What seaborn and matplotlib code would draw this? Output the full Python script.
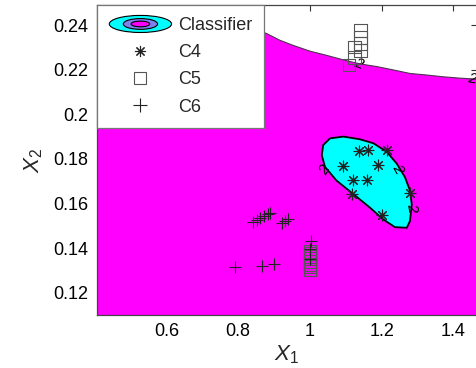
import matplotlib
matplotlib.use("Agg")
import matplotlib.pyplot as plt
import seaborn as sns
import pandas as pd
from matplotlib.patches import Ellipse, Patch
from matplotlib.legend_handler import HandlerBase

# upper decision boundary (below = classifier region)
boundary_x1 = [0.40, 0.60, 0.80, 0.842, 0.879, 0.916, 0.953, 1.0, 1.047, 1.093,
               1.139, 1.186, 1.232, 1.279, 1.326, 1.372, 1.418, 1.47]
boundary_x2 = [0.272, 0.255, 0.2415, 0.2385, 0.2362, 0.2332, 0.2309, 0.2283, 0.2264, 0.2244,
               0.2226, 0.2214, 0.2199, 0.2183, 0.2176, 0.2168, 0.2162, 0.2157]

# inner (cyan) region outline
blob_x1 = [1.037, 1.056, 1.093, 1.139, 1.177, 1.214, 1.242, 1.265, 1.279, 1.284,
           1.279, 1.270, 1.237, 1.204, 1.167, 1.121, 1.074, 1.042, 1.033]
blob_x2 = [0.1862, 0.1892, 0.1900, 0.1888, 0.1870, 0.1832, 0.1779, 0.1718, 0.1658, 0.1597,
           0.1521, 0.1491, 0.1494, 0.1529, 0.1582, 0.1642, 0.1703, 0.1764, 0.1817]

# contour level labels
label_x1 = [1.042, 1.246, 1.284, 1.135, 1.452]
label_x2 = [0.1748, 0.1756, 0.1582, 0.2226, 0.2158]
label_rot = [60, -60, -80, -20, -10]

c4_x1 = [1.138, 1.163, 1.214, 1.093, 1.189, 1.119, 1.160, 1.116, 1.279, 1.200]
c4_x2 = [0.1836, 0.1842, 0.1842, 0.1767, 0.1771, 0.1706, 0.1706, 0.1642, 0.1645, 0.1549]

c5_x1 = [1.141, 1.141, 1.141, 1.141, 1.124, 1.124, 1.109,
         1.0, 1.0, 1.0, 1.0, 1.0, 1.0, 1.0, 1.0]
c5_x2 = [0.2377, 0.2345, 0.2318, 0.2286, 0.2302, 0.2256, 0.2221,
         0.1305, 0.1316, 0.1328, 0.1340, 0.1352, 0.1364, 0.1375, 0.1386]

c6_x1 = [0.842, 0.851, 0.861, 0.873, 0.882, 0.889, 0.921, 0.930, 0.940,
         0.791, 0.865, 0.900, 1.003, 1.0, 1.0]
c6_x2 = [0.1518, 0.1527, 0.1536, 0.1544, 0.1555, 0.1559, 0.1514, 0.1521, 0.1529,
         0.1317, 0.1321, 0.1329, 0.1433, 0.1395, 0.1350]

MAGENTA = "#ff00ff"
CYAN = "#00ffff"
SLATE = "#8080f0"

sns.set_theme(style="white")
plt.rcParams["font.family"] = ["Liberation Sans", "DejaVu Sans"]
plt.rcParams["mathtext.fontset"] = "custom"
plt.rcParams["mathtext.it"] = "Liberation Sans:italic"
plt.rcParams["mathtext.rm"] = "Liberation Sans"


class EllipsesHandler(HandlerBase):
    def create_artists(self, legend, orig_handle, xdescent, ydescent,
                       width, height, fontsize, trans):
        cx = width / 2 - xdescent
        cy = height / 2 - ydescent
        arts = []
        for fw, fh, col in [(1.0, 1.35, CYAN), (0.55, 0.85, SLATE), (0.3, 0.45, MAGENTA)]:
            e = Ellipse((cx, cy), width * fw, height * fh, facecolor=col,
                        edgecolor="black", lw=0.8, transform=trans)
            arts.append(e)
        return arts


fig = plt.figure(figsize=(4.77, 3.68), dpi=100)
ax = fig.add_axes([97 / 477, 1 - 315 / 368, 380 / 477, 310 / 368])

ax.fill_between(boundary_x1, 0.09, boundary_x2, color=MAGENTA, lw=0, zorder=1)
ax.plot(boundary_x1, boundary_x2, color="#503050", lw=0.8, zorder=2)
ax.fill(blob_x1, blob_x2, facecolor=CYAN, edgecolor="black", lw=1.3, zorder=2)

for x, y, r in zip(label_x1, label_x2, label_rot):
    ax.text(x, y, "2", fontsize=11, rotation=r, ha="center", va="center",
            color="black", style="italic", zorder=3)

df4 = pd.DataFrame({"x1": c4_x1, "x2": c4_x2})
df5 = pd.DataFrame({"x1": c5_x1, "x2": c5_x2})
df6 = pd.DataFrame({"x1": c6_x1, "x2": c6_x2})

sns.scatterplot(data=df4, x="x1", y="x2", marker=(8, 2, 0), s=60, color="#222222",
                linewidth=0.8, ax=ax, zorder=4)
sns.scatterplot(data=df5, x="x1", y="x2", marker="s", s=85, facecolor="none",
                edgecolor="#555555", linewidth=0.8, ax=ax, zorder=4)
sns.scatterplot(data=df6, x="x1", y="x2", marker="+", s=85, color="#222222",
                linewidth=0.8, ax=ax, zorder=4)

ax.set_xlim(0.406, 1.466)
ax.set_ylim(0.11, 0.249)
ax.set_xticks([0.6, 0.8, 1.0, 1.2, 1.4])
ax.set_xticklabels(["0.6", "0.8", "1", "1.2", "1.4"])
ax.set_yticks([0.12, 0.14, 0.16, 0.18, 0.2, 0.22, 0.24])
ax.set_yticklabels(["0.12", "0.14", "0.16", "0.18", "0.2", "0.22", "0.24"])
ax.tick_params(direction="in", length=4, width=0.8, top=True, right=True,
               labelsize=13, colors="#333333", labelcolor="black", pad=6)
for sp in ax.spines.values():
    sp.set_color("#444444")
    sp.set_linewidth(0.9)
ax.set_xlabel("$X_1$", fontsize=16, labelpad=2)
ax.set_ylabel("$X_2$", fontsize=16, labelpad=6)

handles = [
    Patch(label="Classifier"),
    plt.Line2D([], [], marker=(8, 2, 0), ls="none", color="#222222", ms=8, mew=0.8, label="C4"),
    plt.Line2D([], [], marker="s", ls="none", mfc="none", mec="#555555", ms=9, mew=0.8, label="C5"),
    plt.Line2D([], [], marker="+", ls="none", color="#222222", ms=10, mew=0.8, label="C6"),
]
leg = ax.legend(handles=handles, loc="upper left", fontsize=13, frameon=True,
                fancybox=False, borderaxespad=0, handlelength=3.45, handleheight=0.7,
                handletextpad=0.35, labelspacing=0.56, borderpad=0.68,
                handler_map={Patch: EllipsesHandler()})
leg.get_frame().set_edgecolor("#777777")
leg.get_frame().set_linewidth(0.9)
leg.get_frame().set_alpha(1)
leg.set_zorder(10)

fig.savefig("out.png", dpi=100)
